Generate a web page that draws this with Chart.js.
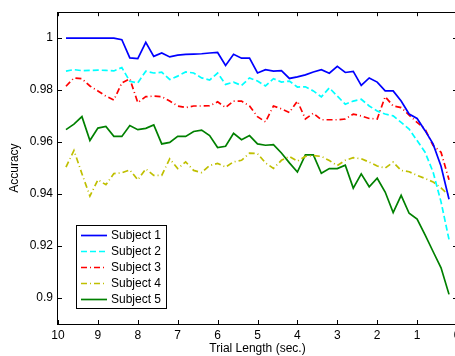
<!DOCTYPE html>
<html>
<head>
<meta charset="utf-8">
<style>
html,body{margin:0;padding:0;background:#fff;overflow:hidden;width:455px;height:356px;}
#wrap{width:470px;height:356px;}
canvas{display:block;}
</style>
<script src="https://cdn.jsdelivr.net/npm/chart.js@4.4.0/dist/chart.umd.min.js"></script>
</head>
<body>
<div id="wrap"><canvas id="c" width="470" height="356"></canvas></div>
<script>
const trialLength = [9.8, 9.6, 9.4, 9.2, 9.0, 8.8, 8.6, 8.4, 8.2, 8.0,
  7.8, 7.6, 7.4, 7.2, 7.0, 6.8, 6.6, 6.4, 6.2, 6.0,
  5.8, 5.6, 5.4, 5.2, 5.0, 4.8, 4.6, 4.4, 4.2, 4.0,
  3.8, 3.6, 3.4, 3.2, 3.0, 2.8, 2.6, 2.4, 2.2, 2.0,
  1.8, 1.6, 1.4, 1.2, 1.0, 0.8, 0.6, 0.4, 0.2];

const subject1 = [1.0, 1.0, 1.0, 1.0, 1.0, 1.0, 1.0, 0.9994, 0.9924, 0.9921,
  0.9984, 0.9930, 0.9943, 0.9928, 0.9935, 0.9938, 0.9939, 0.9940, 0.9943, 0.9945,
  0.9895, 0.9938, 0.9923, 0.9923, 0.9866, 0.9879, 0.9873, 0.9875, 0.9845, 0.9851,
  0.9859, 0.9870, 0.9879, 0.9865, 0.9892, 0.9868, 0.9872, 0.9818, 0.9847, 0.9831,
  0.9797, 0.9797, 0.9758, 0.9708, 0.9691, 0.9644, 0.9593, 0.9507, 0.9380];

const subject2 = [0.9873, 0.9879, 0.9875, 0.9876, 0.9877, 0.9876, 0.9874, 0.9887, 0.9834, 0.9828,
  0.9873, 0.9866, 0.9869, 0.9841, 0.9854, 0.9870, 0.9866, 0.9847, 0.9839, 0.9866,
  0.9822, 0.9831, 0.9818, 0.9847, 0.9835, 0.9816, 0.9844, 0.9831, 0.9835, 0.9812,
  0.9813, 0.9797, 0.9774, 0.9809, 0.9777, 0.9746, 0.9758, 0.9765, 0.9739, 0.9720,
  0.9708, 0.9701, 0.9676, 0.9650, 0.9606, 0.9561, 0.9485, 0.9370, 0.9225];

const subject3 = [0.9815, 0.9847, 0.9844, 0.9816, 0.9797, 0.9777, 0.9762, 0.9828, 0.9844, 0.9752,
  0.9775, 0.9777, 0.9775, 0.9758, 0.9739, 0.9733, 0.9739, 0.9739, 0.9740, 0.9755,
  0.9733, 0.9758, 0.9758, 0.9739, 0.9698, 0.9678, 0.9739, 0.9728, 0.9714, 0.9758,
  0.9689, 0.9711, 0.9686, 0.9686, 0.9686, 0.9689, 0.9708, 0.9701, 0.9691, 0.9689,
  0.9775, 0.9739, 0.9733, 0.9704, 0.9676, 0.9650, 0.9587, 0.9561, 0.9455];

const subject4 = [0.9504, 0.9568, 0.9478, 0.9392, 0.9455, 0.9436, 0.9479, 0.9482, 0.9493, 0.9455,
  0.9497, 0.9472, 0.9472, 0.9536, 0.9498, 0.9524, 0.9491, 0.9483, 0.9510, 0.9518,
  0.9504, 0.9524, 0.9530, 0.9558, 0.9556, 0.9520, 0.9499, 0.9530, 0.9545, 0.9527,
  0.9545, 0.9548, 0.9545, 0.9529, 0.9510, 0.9530, 0.9540, 0.9536, 0.9523, 0.9508,
  0.9500, 0.9523, 0.9491, 0.9486, 0.9472, 0.9460, 0.9447, 0.9424, 0.9395];

const subject5 = [0.9648, 0.9669, 0.9698, 0.9606, 0.9654, 0.9660, 0.9622, 0.9622, 0.9664, 0.9648,
  0.9653, 0.9666, 0.9593, 0.9599, 0.9622, 0.9622, 0.9641, 0.9646, 0.9625, 0.9579,
  0.9584, 0.9634, 0.9609, 0.9625, 0.9593, 0.9588, 0.9590, 0.9558, 0.9520, 0.9485,
  0.9551, 0.9551, 0.9480, 0.9498, 0.9498, 0.9511, 0.9423, 0.9478, 0.9428, 0.9461,
  0.9408, 0.9329, 0.9395, 0.9326, 0.9304, 0.9243, 0.9179, 0.9116, 0.9014];

const seriesNames = ['Subject 1', 'Subject 2', 'Subject 3', 'Subject 4', 'Subject 5'];
const xTicks = [10, 9, 8, 7, 6, 5, 4, 3, 2, 1, 0];
const yTicks = [0.9, 0.92, 0.94, 0.96, 0.98, 1];
const xTitle = 'Trial Length (sec.)';
const yTitle = 'Accuracy';

const FONT = '"Liberation Sans", Arial, Helvetica, sans-serif';
Chart.defaults.font.family = FONT;
Chart.defaults.font.size = 12;
Chart.defaults.color = '#000';

const styles = [
  {color: '#0000ff', dash: []},
  {color: '#00ffff', dash: [6, 3]},
  {color: '#ff0000', dash: [6, 3, 1, 3]},
  {color: '#bfbf00', dash: [6, 3, 1, 3]},
  {color: '#008000', dash: []}
];
const allSeries = [subject1, subject2, subject3, subject4, subject5];

const datasets = allSeries.map((s, k) => ({
  label: seriesNames[k],
  data: trialLength.map((t, i) => ({x: t, y: s[i]})),
  borderColor: styles[k].color,
  borderDash: styles[k].dash,
  borderWidth: 1.7,
  pointRadius: 0,
  fill: false,
  tension: 0
}));

const framePlugin = {
  id: 'frame',
  afterDatasetsDraw(chart) {
    const ctx = chart.ctx, ca = chart.chartArea;
    const xs = chart.scales.x, ys = chart.scales.y;
    ctx.save();
    ctx.strokeStyle = '#000';
    ctx.lineWidth = 1;
    ctx.setLineDash([]);
    ctx.beginPath();
    xTicks.forEach(v => {
      const px = Math.round(xs.getPixelForValue(v)) + 0.5;
      ctx.moveTo(px, ca.bottom); ctx.lineTo(px, ca.bottom - 4);
      ctx.moveTo(px, ca.top); ctx.lineTo(px, ca.top + 4);
    });
    yTicks.forEach(v => {
      const py = Math.round(ys.getPixelForValue(v)) + 0.5;
      ctx.moveTo(ca.left, py); ctx.lineTo(ca.left + 4, py);
      ctx.moveTo(ca.right, py); ctx.lineTo(ca.right - 4, py);
    });
    ctx.stroke();
    ctx.strokeRect(Math.round(ca.left) - 0.5, Math.round(ca.top) + 0.5,
      Math.round(ca.right - ca.left), Math.round(ca.bottom - ca.top));

    // legend
    const bx = Math.round(ca.left) + 18, by = Math.round(ca.bottom) - 99;
    const bw = 90, bh = 83;
    ctx.fillStyle = '#fff';
    ctx.fillRect(bx, by, bw, bh);
    ctx.strokeRect(bx + 0.5, by + 0.5, bw, bh);
    ctx.font = '12px ' + FONT;
    ctx.textBaseline = 'middle';
    ctx.textAlign = 'left';
    chart.data.datasets.forEach((ds, i) => {
      const cy = by + 10.5 + i * 16;
      ctx.strokeStyle = ds.borderColor;
      ctx.lineWidth = ds.borderWidth;
      ctx.setLineDash(ds.borderDash || []);
      ctx.beginPath();
      ctx.moveTo(bx + 5, cy); ctx.lineTo(bx + 31, cy);
      ctx.stroke();
      ctx.setLineDash([]);
      ctx.fillStyle = '#000';
      ctx.fillText(ds.label, bx + 35, cy + 0.5);
    });
    ctx.restore();
  }
};

new Chart(document.getElementById('c'), {
  type: 'line',
  data: {datasets},
  options: {
    responsive: false,
    animation: false,
    devicePixelRatio: 1,
    layout: {padding: {top: 10, right: 13, bottom: 0, left: 0}},
    plugins: {legend: {display: false}, tooltip: {enabled: false}},
    scales: {
      x: {
        type: 'linear',
        reverse: true,
        min: 0, max: 10,
        afterBuildTicks: s => { s.ticks = xTicks.map(v => ({value: v})); },
        afterFit: s => { s.height = 32; },
        grid: {display: false, drawTicks: false},
        border: {display: false},
        ticks: {padding: 4, maxRotation: 0, autoSkip: false, color: '#000',
          font: {size: 12}, callback: v => String(v)},
        title: {display: true, text: xTitle, color: '#000', font: {size: 12}, padding: {top: 0, bottom: 0}}
      },
      y: {
        type: 'linear',
        min: 0.89, max: 1.01,
        afterBuildTicks: s => { s.ticks = yTicks.map(v => ({value: v})); },
        afterFit: s => { s.width = 58; },
        grid: {display: false, drawTicks: false},
        border: {display: false},
        ticks: {padding: 5, color: '#000', font: {size: 12},
          callback: v => String(parseFloat(Number(v).toFixed(2)))},
        title: {display: true, text: yTitle, color: '#000', font: {size: 12}, padding: {top: 7, bottom: 0}}
      }
    }
  },
  plugins: [framePlugin]
});
</script>
</body>
</html>
